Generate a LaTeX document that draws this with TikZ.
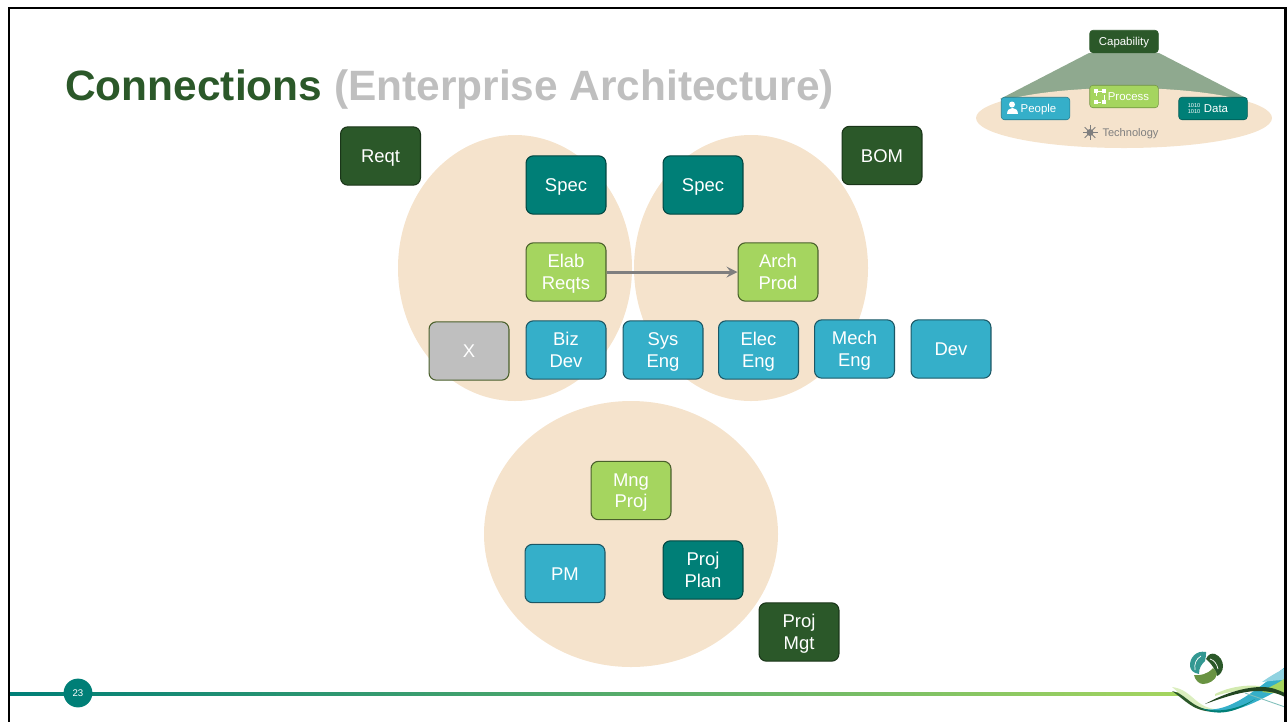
\documentclass[tikz,border=0pt]{standalone}
\usepackage{fontspec}
\setmainfont{Liberation Sans}
\usepackage{xcolor}
\usetikzlibrary{arrows}
\definecolor{leaf}{HTML}{2B5829}
\definecolor{sea}{HTML}{007F77}
\definecolor{lime}{HTML}{A5D55F}
\definecolor{sky}{HTML}{35AFC9}
\definecolor{ash}{HTML}{BFBFBF}
\definecolor{tan}{HTML}{F5E3CC}
\definecolor{sage}{HTML}{8FA98F}
\definecolor{stone}{HTML}{7F7F7F}
\definecolor{moss}{HTML}{6F9D44}
\tikzset{
	box/.style = {rounded corners = 4.2pt, minimum width = 45.5pt, minimum height = 33.2pt, inner sep = 0pt, align = center, text = white, line width = 0.6pt, font = \fontsize{10.5}{12.2}\selectfont, execute at begin node = \rule[-2.4pt]{0pt}{12.2pt}},
	pair/.style = {execute at begin node = \rule[-2.4pt]{0pt}{24.4pt}},
	leafbox/.style = {box, fill = leaf, draw = leaf!60!black},
	seabox/.style = {box, fill = sea, draw = sea!55!black},
	limebox/.style = {box, fill = lime, draw = lime!45!black},
	skybox/.style = {box, fill = sky, draw = sky!50!black},
	ashbox/.style = {box, fill = ash, draw = lime!45!black},
	tiny/.style = {rounded corners = 1.8pt, minimum width = 39pt, minimum height = 12.8pt, inner sep = 0pt, text = white, line width = 0.3pt, font = \fontsize{6.5}{7}\selectfont, execute at begin node = \rule[-1.3pt]{0pt}{7.4pt}},
	blob/.style = {fill = tan},
	icon/.style = {fill = white}
}
\begin{document}
\begin{tikzpicture}[x = 0.02cm, y = -0.02cm]
	    \useasboundingbox (0,0) rectangle (1288,721);

	    \node[anchor = base west, font = \fontsize{24.15}{28}\selectfont\bfseries, text = leaf, inner sep = 0pt] (title) at (65,100) {Connections \textcolor{ash}{(Enterprise Architecture)}};

	    \fill[blob] (515,268) ellipse [x radius = 117, y radius = 133];
	    \fill[blob] (751,268) ellipse [x radius = 117, y radius = 133];
	    \fill[blob] (631,534) ellipse [x radius = 147, y radius = 133];

	    \node[leafbox] (reqt) at (380.5,156) {Reqt};
	    \node[leafbox] (bom) at (882,155.5) {BOM};
	    \node[seabox] (spec_1) at (566,185) {Spec};
	    \node[seabox] (spec_2) at (703,185) {Spec};
	    \node[limebox, pair] (elab) at (566,272) {Elab\\Reqts};
	    \node[limebox, pair] (arch) at (778,272) {Arch\\Prod};
	    \node[ashbox] (x) at (469,351) {X};
	    \node[skybox, pair] (biz) at (566,350) {Biz\\Dev};
	    \node[skybox, pair] (sys) at (663,350) {Sys\\Eng};
	    \node[skybox, pair] (elec) at (758.5,350) {Elec\\Eng};
	    \node[skybox, pair] (mech) at (854.5,349) {Mech\\Eng};
	    \node[skybox] (dev) at (951,349) {Dev};
	    \node[limebox, pair] (mng) at (631,490.5) {Mng\\Proj};
	    \node[skybox] (pm) at (565,573.5) {PM};
	    \node[seabox, pair] (plan) at (703,570) {Proj\\Plan};
	    \node[leafbox, pair] (mgt) at (799,632) {Proj\\Mgt};
	    \draw[-stealth, draw = stone, line width = 1.7pt] (elab) -- (arch);

	    \fill[sage] (1089,53) -- (1159,53) -- (1248,99) -- (1000,99) -- cycle;
	    \fill[blob] (1124,118) ellipse [x radius = 148, y radius = 30];
	    \node[tiny, fill = leaf, draw = leaf] (capability) at (1124,41.5) {Capability};
	    \node[tiny, fill = lime, draw = lime!70!black] (process) at (1124,96.5) {\hspace{5.1pt}Process};
	    \node[tiny, fill = sky, draw = sky!70!black] (people) at (1035.5,108.5) {\hspace{3.4pt}People};
	    \node[tiny, fill = sea, draw = sea!70!black] (data) at (1213,108.5) {\hspace{3.4pt}Data};
	    \node[font = \fontsize{6.3}{7}\selectfont, text = stone, inner sep = 0pt] (technology) at (1130.5,134) {Technology};

	    \fill[icon] (1012,104.5) circle (3);
	    \fill[icon] (1006.5,114) .. controls (1006.5,106) and (1017.5,106) .. (1017.5,114) -- cycle;
	    \draw[white, line width = 0.3pt, dashed] (1096,91) rectangle (1104,102);
	    \foreach \i in {1096,1104}
	    	\foreach \j in {91,102}
	    		\fill[icon] (\i-1.7,\j-1.7) rectangle (\i+1.7,\j+1.7);
	    \node[font = \fontsize{3.2}{3.8}\selectfont, text = white, align = center, inner sep = 0pt] (bits) at (1194,108.5) {1010\\1010};
	    \fill[stone] (1090,132.5) circle (3.5);
	    \foreach \i in {0,45,...,315}
	    	\draw[stone, line width = 0.5pt] (1090,132.5) -- ++(\i:7.5);

	    \fill[left color = sea, middle color = moss, right color = lime] (10,692.4) rectangle (1180,695.6);
	    \node[circle, fill = sea, minimum size = 16.4pt, inner sep = 0pt, text = white, font = \fontsize{5.5}{6}\selectfont] (page) at (78,693) {23};

	    \fill[sea!80] (1206,652) .. controls (1196,650) and (1189.5,658) .. (1190,666) .. controls (1190.5,670) and (1193,673) .. (1199,674) .. controls (1199,667) and (1202,664) .. (1205,661) .. controls (1206,658) and (1206,654) .. (1206,652) -- cycle;
	    \draw[white, line width = 0.4pt] (1201,656) .. controls (1196,659) and (1194,664) .. (1195,670);
	    \fill[leaf] (1206,659) .. controls (1208,654) and (1212,653) .. (1215,654) .. controls (1220,656) and (1223,661) .. (1223,666) .. controls (1223,671) and (1220,675) .. (1217,676) .. controls (1216,671) and (1212,664) .. (1206,659) -- cycle;
	    \draw[white, line width = 0.4pt] (1210,659) .. controls (1214,660) and (1217,664) .. (1218,669);
	    \fill[leaf!40!lime!90!black] (1194,675) .. controls (1200,676) and (1208,674) .. (1213,668) .. controls (1215,670) and (1217,672) .. (1217,674) .. controls (1216,680) and (1209,684) .. (1203,684) .. controls (1199,684) and (1195,680) .. (1194,675) -- cycle;

	    \fill[lime!40] (1172,687) .. controls (1195,690) and (1195,712) .. (1225,709) .. controls (1200,716) and (1190,702) .. (1172,687) -- cycle;
	    \fill[lime!50] (1215,694) .. controls (1235,684) and (1262,682) .. (1285,693) -- (1285,696) .. controls (1265,688) and (1240,688) .. (1215,696) -- cycle;
	    \fill[sky] (1200,708) .. controls (1225,715) and (1250,695) .. (1285,667) -- (1285,687) .. controls (1255,702) and (1230,719) .. (1200,708) -- cycle;
	    \fill[sky!55] (1262,682) .. controls (1270,676) and (1278,672) .. (1285,668) -- (1285,680) .. controls (1278,680) and (1270,681) .. (1262,682) -- cycle;
	    \fill[lime] (1262,692) .. controls (1270,686) and (1278,684) .. (1285,678) -- (1285,692) .. controls (1278,694) and (1270,693) .. (1262,692) -- cycle;
	    \fill[leaf] (1172,691) .. controls (1190,695) and (1190,712) .. (1225,711) .. controls (1195,715) and (1188,702) .. (1172,691) -- cycle;
	    \fill[leaf!80!black] (1205,704) .. controls (1225,693) and (1245,687) .. (1262,687) .. controls (1272,687) and (1278,690) .. (1285,693) -- (1285,697) .. controls (1275,692) and (1268,691) .. (1255,691) .. controls (1240,692) and (1225,697) .. (1205,704) -- cycle;
	    \fill[sea] (1200,708) .. controls (1220,714) and (1240,708) .. (1255,699) .. controls (1240,710) and (1220,718) .. (1200,708) -- cycle;
	    \draw[sea!50, line width = 0.5pt] (1245,693) -- (1285,707);

	    \draw[line width = 1.7pt] (9,740) -- (9,8) -- (1285,8) -- (1285,740);
\end{tikzpicture}
\end{document}
